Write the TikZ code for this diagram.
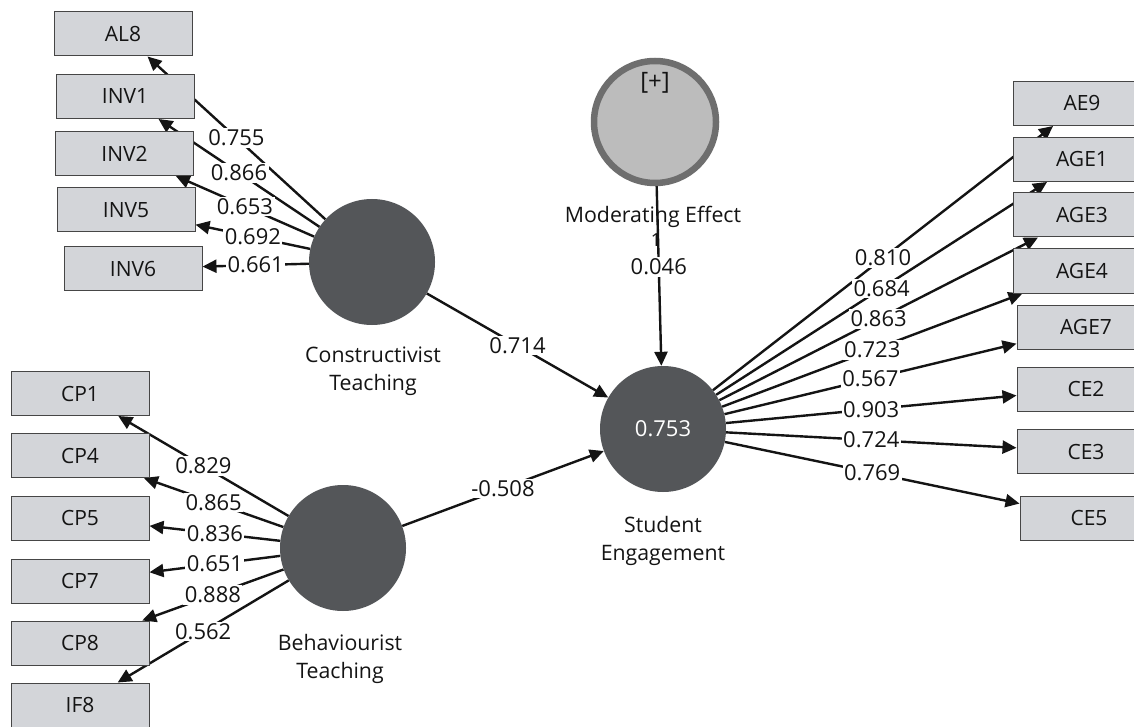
\documentclass[tikz,border=0pt]{standalone}
\usepackage{fontspec}
\setmainfont{Open Sans}
\usetikzlibrary{arrows.meta,backgrounds}
\definecolor{boxfill}{RGB}{211,213,217}
\definecolor{boxline}{RGB}{70,70,70}
\definecolor{latfill}{RGB}{84,86,89}
\definecolor{modfill}{RGB}{188,188,188}
\definecolor{modring}{RGB}{110,110,110}
\definecolor{ink}{RGB}{20,20,20}
\begin{document}
\begin{tikzpicture}[x=1pt,y=-1pt,
  ind/.style={draw=boxline,line width=1pt,fill=boxfill,minimum width=138pt,minimum height=44pt,inner sep=0pt,font=\fontsize{21}{24}\selectfont,text=ink},
  lat/.style={circle,fill=latfill,minimum size=126pt,inner sep=0pt},
  modc/.style={circle,fill=modfill,draw=modring,line width=6.5pt,minimum size=122pt,inner sep=0pt},
  conn/.style={line width=2.4pt,draw=ink,-{Triangle[length=14pt,width=13pt]}},
  wt/.style={fill=white,inner sep=1.5pt,font=\fontsize{22}{24}\selectfont,text=ink},
  latlabel/.style={align=center,font=\fontsize{21.3}{28}\selectfont,text=ink}]
\useasboundingbox (0,0) rectangle (1134,727);

% indicator boxes, left top
\node[ind] (AL8)  at (123,34)    {AL8};
\node[ind] (INV1) at (125,96.5)  {INV1};
\node[ind] (INV2) at (124.5,153.5) {INV2};
\node[ind] (INV5) at (126,210)   {INV5};
\node[ind] (INV6) at (133,268.5) {INV6};
% indicator boxes, left bottom
\node[ind] (CP1) at (80,393.5) {CP1};
\node[ind] (CP4) at (80,455.5) {CP4};
\node[ind] (CP5) at (80,518)   {CP5};
\node[ind] (CP7) at (80,581)   {CP7};
\node[ind] (CP8) at (80,643)   {CP8};
\node[ind] (IF8) at (80,705)   {IF8};
% indicator boxes, right
\node[ind] (AE9)  at (1082,103.5) {AE9};
\node[ind] (AGE1) at (1082,159.5) {AGE1};
\node[ind] (AGE3) at (1082,215)   {AGE3};
\node[ind] (AGE4) at (1082,271)   {AGE4};
\node[ind] (AGE7) at (1086,327)   {AGE7};
\node[ind] (CE2)  at (1086,389)   {CE2};
\node[ind] (CE3)  at (1086,451.5) {CE3};
\node[ind] (CE5)  at (1089,518)   {CE5};

% latent variables
\node[lat] (CT) at (372,262) {};
\node[lat] (BT) at (343,548) {};
\node[lat,text=white,font=\fontsize{22}{24}\selectfont] (SE) at (663,429) {0.753};
\node[modc] (ME) at (655,122) {};
\node[text=ink,font=\fontsize{24}{26}\selectfont] (MEp) at (655,83) {[+]};

% latent labels
\node[latlabel] (CTl) at (373,371) {Constructivist\\Teaching};
\node[latlabel] (BTl) at (340,658.5) {Behaviourist\\Teaching};
\node[latlabel] (SEl) at (663,541) {Student\\Engagement};
\node[latlabel] (MEl) at (653,217) {Moderating Effect};
\node[text=ink,font=\fontsize{18}{20}\selectfont] (MEone) at (656,240) {1};

\begin{scope}[on background layer]
\fill[white] (0,0) rectangle (1134,727);
\draw[conn] (CT) -- node[wt]{0.755} (AL8);
\draw[conn] (CT) -- node[wt]{0.866} (INV1);
\draw[conn] (CT) -- node[wt]{0.653} (INV2);
\draw[conn] (CT) -- node[wt]{0.692} (INV5);
\draw[conn] (CT) -- node[wt]{0.661} (INV6);

\draw[conn] (BT) -- node[wt]{0.829} (CP1);
\draw[conn] (BT) -- node[wt]{0.865} (CP4);
\draw[conn] (BT) -- node[wt]{0.836} (CP5);
\draw[conn] (BT) -- node[wt]{0.651} (CP7);
\draw[conn] (BT) -- node[wt]{0.888} (CP8);
\draw[conn] (BT) -- node[wt]{0.562} (IF8);

\draw[conn] (SE) -- node[wt]{0.810} (AE9);
\draw[conn] (SE) -- node[wt]{0.684} (AGE1);
\draw[conn] (SE) -- node[wt]{0.863} (AGE3);
\draw[conn] (SE) -- node[wt]{0.723} (AGE4);
\draw[conn] (SE) -- node[wt]{0.567} (AGE7);
\draw[conn] (SE) -- node[wt]{0.903} (CE2);
\draw[conn] (SE) -- node[wt]{0.724} (CE3);
\draw[conn] (SE) -- node[wt]{0.769} (CE5);

\draw[conn] (CT) -- node[wt]{0.714} (SE);
\draw[conn] (BT) -- node[wt]{-0.508} (SE);
\draw[conn] (ME) -- node[wt,pos=0.45]{0.046} (SE);
\end{scope}
\end{tikzpicture}
\end{document}
